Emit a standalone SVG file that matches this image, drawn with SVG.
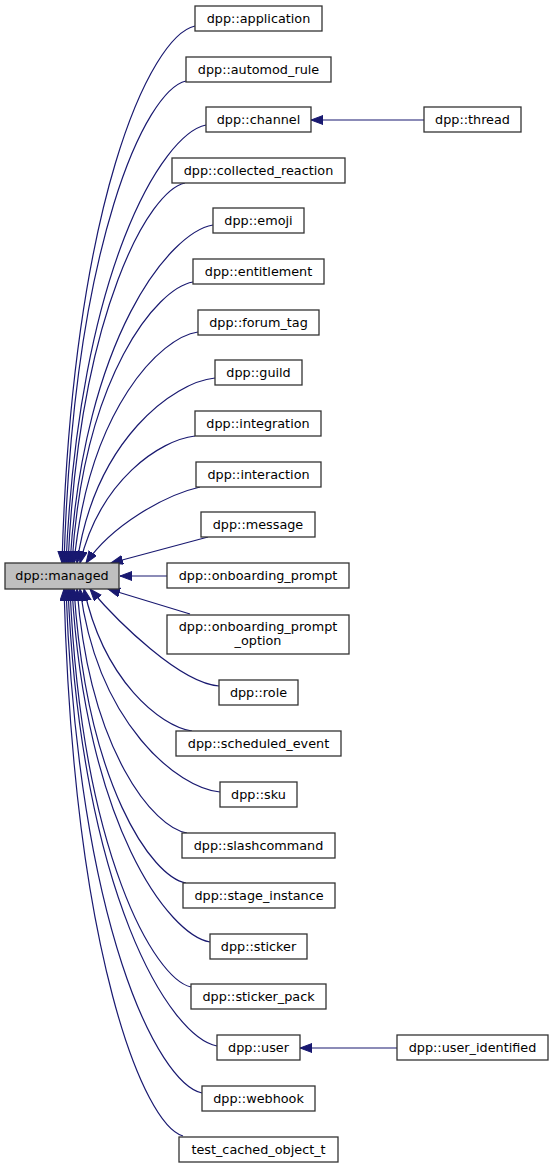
<svg xmlns="http://www.w3.org/2000/svg" width="553" height="1168" viewBox="0 0 553 1168">
<style>
.node rect{fill:#ffffff;stroke:#333333;stroke-width:1.3}
.node.cur rect{fill:#bfbfbf}
.node text{font-family:"DejaVu Sans",sans-serif;font-size:12.8px;fill:#000000;text-anchor:middle}
.edges path{fill:none;stroke:#191970;stroke-width:1.2;marker-end:url(#arr)}
</style>
<defs>
<marker id="arr" markerUnits="userSpaceOnUse" markerWidth="14" markerHeight="11" refX="12" refY="4.5" orient="auto" viewBox="0 0 14 11">
<path d="M0,0 L12,4.5 L0,9 z" fill="#191970" stroke="#191970" stroke-width="1"/>
</marker>
</defs>
<rect width="553" height="1168" fill="#ffffff"/>
<g class="edges" id="edges">
<path d="M195,26 C150,36 72,203 62,563"/>
<path d="M186,81 C146,90 74,240 64,563"/>
<path d="M206,125 C162,134 79,270 66,563"/>
<path d="M185,183 C150,190 80,308 68,563"/>
<path d="M213,225 C170,232 84,337 70,563"/>
<path d="M193,282 C157,288 84,375 72,563"/>
<path d="M198,332 C161,337 89,408 74,563"/>
<path d="M215,378 C174,382 95,439 77,563"/>
<path d="M195,436 C160,440 100,480 80,563"/>
<path d="M200,487 C165,495 112,525 86,563"/>
<path d="M208,537 L111,563"/>
<path d="M167,576 L120,576"/>
<path d="M190,614 L108,589"/>
<path d="M219,686 C180,683 118,622 90,589"/>
<path d="M192,731 C160,726 104,681 84,589"/>
<path d="M220,792 C178,788 98,725 80,589"/>
<path d="M187,833 C154,828 90,752 77,589"/>
<path d="M186,883 C152,877 87,786 74,589"/>
<path d="M210,942 C169,935 86,826 72,589"/>
<path d="M191,987 C155,979 82,856 70,589"/>
<path d="M217,1046 C170,1037 81,895 68,589"/>
<path d="M202,1093 C158,1083 78,927 66,589"/>
<path d="M183,1136 C144,1125 74,956 64,589"/>
<path d="M424,120 L311,120"/>
<path d="M397,1048 L300,1048"/>
</g>
<g class="node cur" id="managed"><rect x="5" y="563" width="114" height="26"/><text x="62" y="580">dpp::managed</text></g>
<g class="node" id="application"><rect x="195" y="6" width="127" height="25"/><text x="258.5" y="22.5">dpp::application</text></g>
<g class="node" id="automod_rule"><rect x="186" y="57" width="145" height="25"/><text x="258.5" y="73.5">dpp::automod_rule</text></g>
<g class="node" id="channel"><rect x="206" y="107" width="105" height="25"/><text x="258.5" y="123.5">dpp::channel</text></g>
<g class="node" id="thread"><rect x="424" y="107" width="97" height="25"/><text x="472.5" y="123.5">dpp::thread</text></g>
<g class="node" id="collected_reaction"><rect x="172" y="158" width="173" height="25"/><text x="258.5" y="174.5">dpp::collected_reaction</text></g>
<g class="node" id="emoji"><rect x="213" y="208" width="91" height="25"/><text x="258.5" y="224.5">dpp::emoji</text></g>
<g class="node" id="entitlement"><rect x="193" y="259" width="131" height="25"/><text x="258.5" y="275.5">dpp::entitlement</text></g>
<g class="node" id="forum_tag"><rect x="198" y="310" width="121" height="25"/><text x="258.5" y="326.5">dpp::forum_tag</text></g>
<g class="node" id="guild"><rect x="215" y="360" width="87" height="25"/><text x="258.5" y="376.5">dpp::guild</text></g>
<g class="node" id="integration"><rect x="195" y="411" width="126" height="25"/><text x="258" y="427.5">dpp::integration</text></g>
<g class="node" id="interaction"><rect x="196" y="462" width="125" height="25"/><text x="258.5" y="478.5">dpp::interaction</text></g>
<g class="node" id="message"><rect x="201" y="512" width="114" height="25"/><text x="258" y="528.5">dpp::message</text></g>
<g class="node" id="onboarding_prompt"><rect x="167" y="563" width="182" height="25"/><text x="258" y="579.5">dpp::onboarding_prompt</text></g>
<g class="node" id="onboarding_prompt_option"><rect x="167" y="615" width="182" height="39"/><text x="258" y="630.5">dpp::onboarding_prompt</text><text x="258" y="644.5">_option</text></g>
<g class="node" id="role"><rect x="219" y="680" width="79" height="25"/><text x="258.5" y="696.5">dpp::role</text></g>
<g class="node" id="scheduled_event"><rect x="176" y="731" width="165" height="25"/><text x="258.5" y="747.5">dpp::scheduled_event</text></g>
<g class="node" id="sku"><rect x="220" y="782" width="77" height="25"/><text x="258.5" y="798.5">dpp::sku</text></g>
<g class="node" id="slashcommand"><rect x="182" y="833" width="153" height="25"/><text x="258.5" y="849.5">dpp::slashcommand</text></g>
<g class="node" id="stage_instance"><rect x="183" y="883" width="152" height="25"/><text x="259" y="899.5">dpp::stage_instance</text></g>
<g class="node" id="sticker"><rect x="210" y="934" width="97" height="25"/><text x="258.5" y="950.5">dpp::sticker</text></g>
<g class="node" id="sticker_pack"><rect x="191" y="984" width="135" height="25"/><text x="258.5" y="1000.5">dpp::sticker_pack</text></g>
<g class="node" id="user"><rect x="217" y="1035" width="83" height="25"/><text x="258.5" y="1051.5">dpp::user</text></g>
<g class="node" id="user_identified"><rect x="397" y="1035" width="151" height="25"/><text x="472.5" y="1051.5">dpp::user_identified</text></g>
<g class="node" id="webhook"><rect x="202" y="1086" width="113" height="25"/><text x="258.5" y="1102.5">dpp::webhook</text></g>
<g class="node" id="test_cached_object_t"><rect x="179" y="1137" width="159" height="25"/><text x="258.5" y="1153.5">test_cached_object_t</text></g>
</svg>
